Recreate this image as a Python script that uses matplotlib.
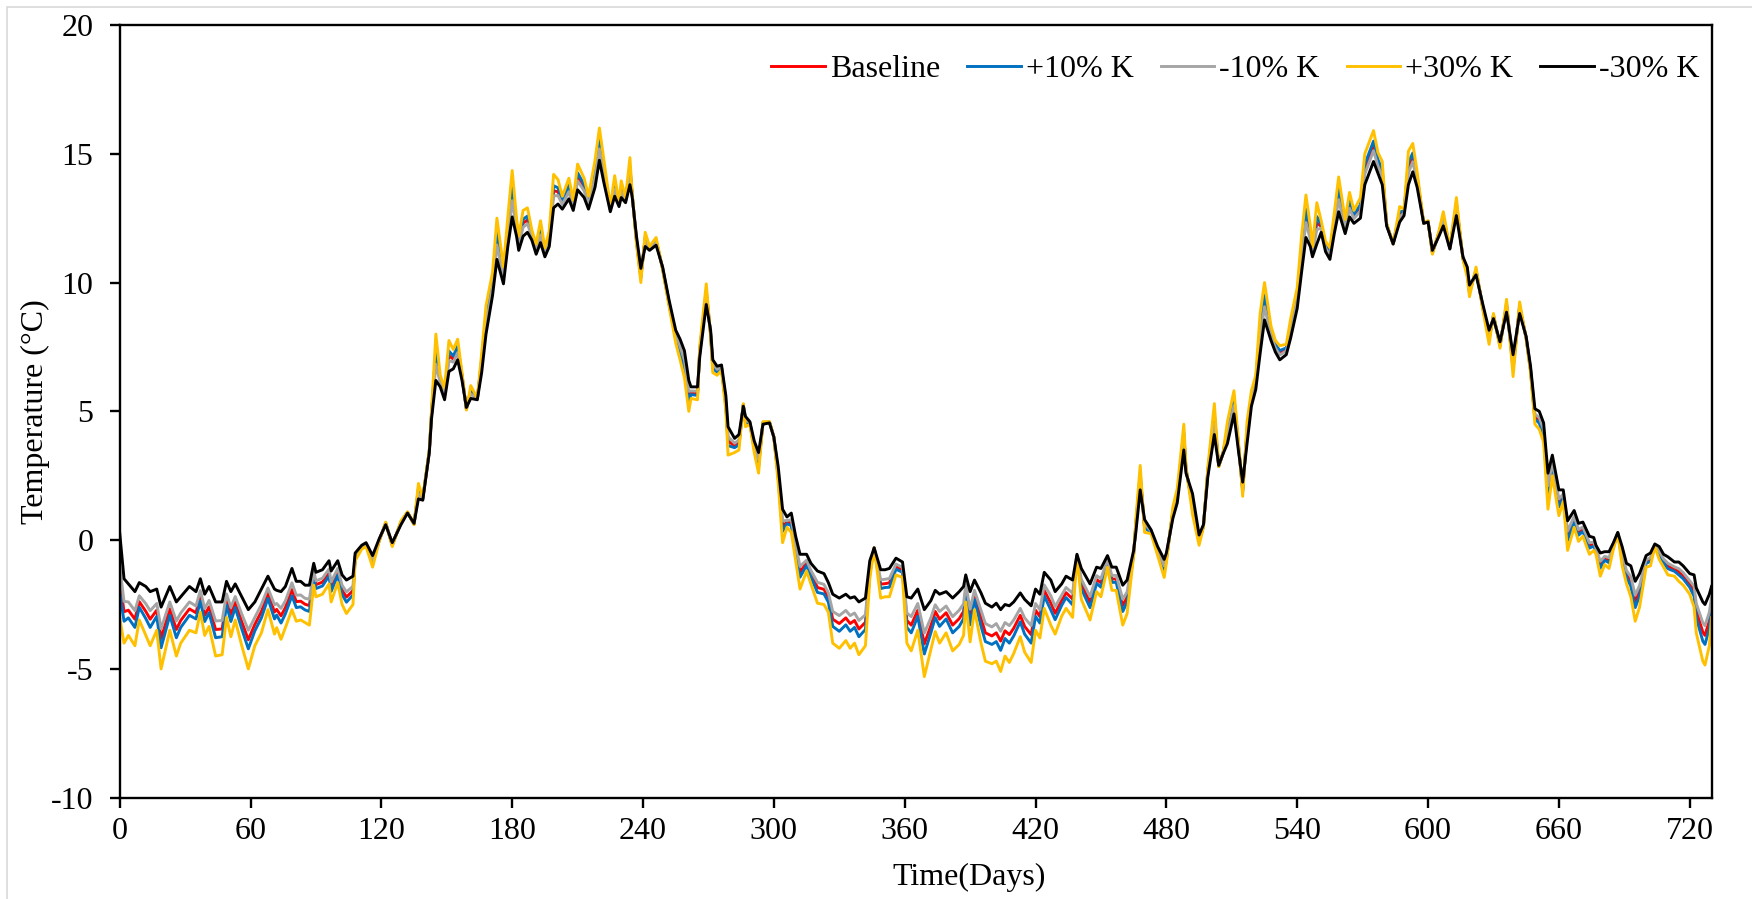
import matplotlib
matplotlib.use("Agg")
import matplotlib.pyplot as plt
from matplotlib.patches import Rectangle

plt.rcParams["font.family"] = ["Liberation Serif", "DejaVu Serif"]
plt.rcParams["font.size"] = 23
plt.rcParams["axes.unicode_minus"] = False

# simulated temperature, day of simulation
DAYS = [
    0, 2, 4, 7, 9, 12, 14, 17, 19, 23, 26, 28,
    32, 35, 37, 39, 41, 44, 47, 49, 51, 53, 56, 59,
    62, 65, 68, 71, 72, 74, 76, 79, 81, 83, 85, 87,
    89, 90, 93, 96, 97, 100, 102, 104, 107, 108, 111, 113,
    116, 119, 122, 125, 129, 132, 135, 137, 139, 142, 143, 145,
    147, 149, 151, 153, 155, 157, 159, 161, 164, 166, 168, 171,
    173, 176, 178, 180, 182, 183, 185, 187, 189, 191, 193, 195,
    197, 199, 201, 203, 206, 208, 210, 213, 215, 218, 220, 222,
    225, 227, 229, 230, 232, 234, 235, 237, 239, 241, 243, 246,
    249, 252, 255, 257, 259, 261, 262, 265, 266, 269, 271, 272,
    274, 276, 278, 279, 282, 284, 286, 287, 289, 291, 293, 295,
    298, 300, 302, 304, 306, 308, 310, 312, 315, 317, 320, 323,
    325, 327, 330, 333, 335, 337, 339, 342, 344, 346, 349, 351,
    353, 356, 359, 361, 363, 366, 369, 372, 374, 376, 379, 382,
    385, 387, 388, 390, 392, 395, 397, 400, 402, 404, 406, 408,
    410, 413, 415, 418, 420, 422, 424, 427, 429, 432, 434, 437,
    439, 441, 445, 448, 450, 453, 455, 457, 460, 462, 465, 466,
    468, 470, 473, 476, 479, 480, 483, 485, 488, 489, 492, 495,
    497, 499, 502, 504, 506, 508, 511, 513, 515, 517, 519, 521,
    523, 525, 528, 530, 532, 535, 537, 540, 542, 544, 546, 547,
    549, 551, 553, 555, 557, 559, 562, 564, 566, 569, 571, 575,
    577, 579, 581, 584, 587, 589, 591, 593, 595, 598, 600, 602,
    605, 607, 610, 613, 616, 618, 619, 622, 625, 628, 630, 633,
    636, 639, 642, 645, 647, 649, 651, 653, 655, 657, 660, 662,
    664, 667, 669, 671, 674, 676, 677, 679, 681, 683, 685, 687,
    689, 691, 693, 695, 697, 700, 702, 704, 706, 708, 710, 713,
    715, 717, 720, 722, 723, 726, 727, 729, 730,
]

T_BASE = [
    -1.5, -2.78, -2.72, -3.07, -2.39, -2.77, -3.07, -2.72, -3.82, -2.67, -3.47, -3.12,
    -2.67, -2.82, -2.16, -2.92, -2.59, -3.47, -3.45, -2.31, -2.89, -2.41, -3.17, -3.87,
    -3.27, -2.77, -2.06, -2.79, -2.69, -2.94, -2.62, -1.92, -2.39, -2.37, -2.49, -2.54,
    -1.33, -1.73, -1.63, -1.26, -1.81, -1.23, -1.94, -2.21, -1.96, -0.65, -0.28, -0.18,
    -0.83, 0.0, 0.65, -0.18, 0.68, 1.08, 0.62, 1.91, 1.6, 3.45, 4.85, 7.12,
    6.18, 5.68, 7.16, 7.03, 7.41, 6.35, 5.1, 5.76, 5.48, 6.88, 8.56, 9.96,
    11.72, 10.28, 11.99, 13.47, 12.16, 11.53, 12.31, 12.43, 11.85, 11.3, 11.98, 11.18,
    11.71, 13.56, 13.53, 13.11, 13.66, 13.0, 14.11, 13.68, 13.11, 14.24, 15.39, 14.36,
    12.85, 13.76, 13.03, 13.63, 13.2, 14.34, 13.43, 11.65, 10.27, 11.68, 11.33, 11.6,
    10.55, 9.17, 7.9, 7.39, 6.81, 5.59, 5.72, 5.7, 7.3, 9.56, 8.02, 6.75,
    6.57, 6.7, 5.29, 3.84, 3.67, 3.79, 5.25, 4.6, 4.55, 3.62, 2.99, 4.55,
    4.58, 4.0, 2.52, 0.54, 0.7, 0.67, -0.33, -1.24, -0.88, -1.31, -1.84, -1.91,
    -2.24, -3.07, -3.24, -3.02, -3.24, -3.12, -3.45, -3.19, -1.16, -0.3, -1.71, -1.69,
    -1.66, -1.03, -1.16, -3.12, -3.3, -2.72, -4.03, -3.32, -2.77, -3.07, -2.82, -3.3,
    -3.05, -2.77, -1.89, -2.99, -2.14, -3.04, -3.6, -3.72, -3.6, -3.92, -3.52, -3.67,
    -3.42, -2.92, -3.35, -3.67, -2.72, -2.97, -1.96, -2.44, -2.84, -2.34, -2.04, -2.29,
    -0.6, -1.71, -2.41, -1.53, -1.66, -0.83, -1.51, -1.51, -2.54, -2.21, -0.5, 0.56,
    2.43, 0.55, 0.32, -0.43, -1.11, -0.7, 1.08, 1.73, 4.01, 2.73, 1.39, 0.0,
    0.55, 2.63, 4.71, 2.87, 3.38, 4.18, 5.36, 3.7, 1.97, 4.18, 5.51, 6.13,
    8.04, 9.29, 8.03, 7.53, 7.28, 7.4, 8.23, 9.41, 11.11, 12.59, 11.81, 11.2,
    12.32, 12.18, 11.4, 11.13, 12.31, 13.44, 12.18, 13.03, 12.56, 12.91, 14.41, 15.31,
    14.66, 14.26, 12.25, 11.5, 12.66, 12.73, 14.46, 14.86, 14.01, 12.3, 12.38, 11.17,
    11.9, 12.48, 11.33, 12.96, 10.95, 10.4, 9.67, 10.45, 9.1, 7.87, 8.7, 7.57,
    9.11, 6.77, 9.03, 7.85, 6.62, 4.79, 4.64, 4.17, 1.89, 2.89, 1.44, 1.72,
    0.16, 0.82, 0.29, 0.42, -0.21, -0.16, -0.38, -0.96, -0.71, -0.78, -0.23, 0.27,
    -0.63, -1.31, -1.61, -2.39, -1.96, -0.83, -0.76, -0.2, -0.51, -0.81, -1.01, -1.13,
    -1.23, -1.38, -1.71, -1.99, -2.74, -3.57, -3.7, -3.12, -2.41,
]

T_P10 = [
    -2.0, -3.15, -3.02, -3.39, -2.61, -3.05, -3.39, -2.96, -4.18, -2.92, -3.79, -3.39,
    -2.92, -3.06, -2.36, -3.16, -2.82, -3.79, -3.75, -2.52, -3.16, -2.62, -3.45, -4.22,
    -3.52, -3.02, -2.26, -3.06, -2.91, -3.22, -2.86, -2.16, -2.62, -2.59, -2.71, -2.77,
    -1.46, -1.88, -1.78, -1.39, -1.99, -1.36, -2.11, -2.41, -2.13, -0.7, -0.3, -0.2,
    -0.9, -0.02, 0.67, -0.2, 0.7, 1.08, 0.62, 2.0, 1.62, 3.47, 4.9, 7.39,
    6.25, 5.75, 7.34, 7.15, 7.53, 6.4, 5.08, 5.83, 5.48, 7.0, 8.73, 10.09,
    11.96, 10.38, 12.16, 13.74, 12.26, 11.61, 12.46, 12.58, 11.91, 11.36, 12.11, 11.23,
    11.8, 13.76, 13.68, 13.18, 13.78, 13.06, 14.26, 13.8, 13.18, 14.39, 15.58, 14.49,
    12.88, 13.88, 13.05, 13.73, 13.23, 14.49, 13.45, 11.6, 10.19, 11.76, 11.35, 11.65,
    10.53, 9.14, 7.82, 7.27, 6.66, 5.41, 5.65, 5.62, 7.36, 9.68, 7.99, 6.67,
    6.52, 6.67, 5.2, 3.67, 3.59, 3.7, 5.27, 4.54, 4.53, 3.55, 2.87, 4.57,
    4.58, 4.0, 2.42, 0.34, 0.64, 0.56, -0.48, -1.44, -0.98, -1.43, -2.03, -2.09,
    -2.41, -3.35, -3.54, -3.29, -3.54, -3.39, -3.75, -3.47, -1.26, -0.3, -1.88, -1.84,
    -1.83, -1.13, -1.25, -3.39, -3.6, -2.96, -4.42, -3.6, -3.01, -3.35, -3.06, -3.6,
    -3.35, -3.05, -2.04, -3.29, -2.31, -3.34, -3.94, -4.05, -3.94, -4.28, -3.82, -4.0,
    -3.72, -3.17, -3.65, -4.0, -2.96, -3.22, -2.17, -2.71, -3.09, -2.53, -2.23, -2.51,
    -0.62, -1.89, -2.62, -1.68, -1.83, -0.9, -1.64, -1.64, -2.77, -2.41, -0.53, 0.63,
    2.58, 0.47, 0.3, -0.48, -1.21, -0.76, 1.15, 1.81, 4.16, 2.77, 1.27, -0.06,
    0.53, 2.68, 4.89, 2.87, 3.38, 4.31, 5.49, 3.76, 1.89, 4.31, 5.6, 6.21,
    8.27, 9.51, 8.11, 7.6, 7.36, 7.46, 8.35, 9.53, 11.32, 12.84, 11.93, 11.26,
    12.56, 12.25, 11.46, 11.2, 12.43, 13.64, 12.26, 13.18, 12.63, 13.03, 14.59, 15.49,
    14.78, 14.39, 12.27, 11.5, 12.75, 12.77, 14.66, 15.03, 14.1, 12.3, 12.38, 11.15,
    11.93, 12.56, 11.33, 13.06, 10.93, 10.34, 9.6, 10.5, 9.07, 7.79, 8.73, 7.54,
    9.18, 6.64, 9.1, 7.83, 6.59, 4.7, 4.54, 4.06, 1.68, 2.77, 1.29, 1.65,
    -0.01, 0.72, 0.19, 0.34, -0.31, -0.23, -0.43, -1.09, -0.78, -0.88, -0.27, 0.27,
    -0.75, -1.43, -1.79, -2.62, -2.16, -0.9, -0.83, -0.22, -0.58, -0.88, -1.11, -1.21,
    -1.35, -1.5, -1.83, -2.18, -3.01, -3.92, -4.05, -3.42, -2.59,
]

T_M10 = [
    -1.0, -2.38, -2.4, -2.74, -2.16, -2.47, -2.74, -2.46, -3.44, -2.4, -3.14, -2.83,
    -2.4, -2.56, -1.96, -2.66, -2.34, -3.14, -3.12, -2.09, -2.61, -2.19, -2.87, -3.5,
    -3.0, -2.5, -1.86, -2.51, -2.46, -2.65, -2.36, -1.66, -2.14, -2.13, -2.26, -2.29,
    -1.2, -1.58, -1.48, -1.12, -1.62, -1.1, -1.75, -2.01, -1.79, -0.6, -0.25, -0.15,
    -0.76, 0.0, 0.63, -0.15, 0.65, 1.07, 0.63, 1.81, 1.59, 3.44, 4.8, 6.83,
    6.11, 5.61, 6.97, 6.91, 7.28, 6.3, 5.12, 5.68, 5.47, 6.76, 8.39, 9.82,
    11.46, 10.18, 11.8, 13.18, 12.05, 11.44, 12.15, 12.28, 11.79, 11.24, 11.85, 11.12,
    11.61, 13.36, 13.38, 13.03, 13.53, 12.94, 13.95, 13.56, 13.03, 14.07, 15.19, 14.22,
    12.82, 13.63, 13.0, 13.53, 13.17, 14.17, 13.4, 11.7, 10.36, 11.59, 11.3, 11.56,
    10.57, 9.21, 7.98, 7.52, 6.98, 5.78, 5.79, 5.78, 7.24, 9.43, 8.06, 6.83,
    6.63, 6.73, 5.39, 4.02, 3.76, 3.89, 5.24, 4.66, 4.57, 3.69, 3.12, 4.54,
    4.57, 4.0, 2.62, 0.75, 0.76, 0.79, -0.18, -1.02, -0.78, -1.18, -1.64, -1.72,
    -2.05, -2.77, -2.93, -2.73, -2.93, -2.83, -3.12, -2.9, -1.05, -0.3, -1.54, -1.52,
    -1.49, -0.93, -1.06, -2.83, -2.97, -2.46, -3.61, -3.02, -2.51, -2.77, -2.56, -2.97,
    -2.72, -2.47, -1.72, -2.68, -1.95, -2.73, -3.24, -3.37, -3.24, -3.54, -3.2, -3.32,
    -3.1, -2.65, -3.02, -3.32, -2.46, -2.7, -1.74, -2.16, -2.58, -2.14, -1.84, -2.06,
    -0.59, -1.52, -2.19, -1.38, -1.49, -0.76, -1.37, -1.37, -2.29, -2.01, -0.47, 0.48,
    2.28, 0.63, 0.35, -0.37, -1.0, -0.64, 1.01, 1.64, 3.85, 2.69, 1.52, 0.06,
    0.57, 2.57, 4.52, 2.88, 3.37, 4.05, 5.22, 3.64, 2.06, 4.05, 5.41, 6.04,
    7.79, 9.06, 7.94, 7.46, 7.19, 7.34, 8.11, 9.28, 10.89, 12.33, 11.68, 11.14,
    12.06, 12.11, 11.34, 11.06, 12.18, 13.22, 12.09, 12.88, 12.48, 12.78, 14.22, 15.12,
    14.53, 14.12, 12.24, 11.5, 12.56, 12.69, 14.26, 14.69, 13.91, 12.3, 12.37, 11.2,
    11.87, 12.39, 11.32, 12.85, 10.97, 10.46, 9.74, 10.41, 9.13, 7.96, 8.67, 7.61,
    9.03, 6.9, 8.96, 7.87, 6.66, 4.89, 4.76, 4.29, 2.11, 3.02, 1.6, 1.79,
    0.35, 0.92, 0.41, 0.51, -0.1, -0.08, -0.32, -0.82, -0.63, -0.68, -0.19, 0.28,
    -0.51, -1.18, -1.42, -2.14, -1.76, -0.76, -0.68, -0.19, -0.43, -0.73, -0.9, -1.04,
    -1.11, -1.26, -1.58, -1.79, -2.46, -3.21, -3.32, -2.8, -2.22,
]

T_P30 = [
    -3.0, -4.0, -3.7, -4.1, -3.1, -3.7, -4.1, -3.5, -5.0, -3.5, -4.5, -4.0,
    -3.5, -3.6, -2.8, -3.7, -3.35, -4.5, -4.45, -3.0, -3.75, -3.1, -4.1, -5.0,
    -4.1, -3.6, -2.7, -3.65, -3.4, -3.85, -3.4, -2.7, -3.15, -3.1, -3.2, -3.3,
    -1.75, -2.2, -2.1, -1.7, -2.4, -1.65, -2.5, -2.85, -2.5, -0.8, -0.35, -0.25,
    -1.05, -0.05, 0.7, -0.25, 0.75, 1.1, 0.6, 2.2, 1.65, 3.5, 5.0, 8.0,
    6.4, 5.9, 7.75, 7.4, 7.8, 6.5, 5.05, 6.0, 5.5, 7.25, 9.1, 10.4,
    12.5, 10.6, 12.55, 14.35, 12.5, 11.8, 12.8, 12.9, 12.05, 11.5, 12.4, 11.35,
    12.0, 14.2, 14.0, 13.35, 14.05, 13.2, 14.6, 14.05, 13.35, 14.75, 16.0, 14.8,
    12.95, 14.15, 13.1, 13.95, 13.3, 14.85, 13.5, 11.5, 10.0, 11.95, 11.4, 11.75,
    10.5, 9.05, 7.65, 7.0, 6.3, 5.0, 5.5, 5.45, 7.5, 9.95, 7.9, 6.5,
    6.4, 6.6, 5.0, 3.3, 3.4, 3.5, 5.3, 4.4, 4.5, 3.4, 2.6, 4.6,
    4.6, 4.0, 2.2, -0.1, 0.5, 0.3, -0.8, -1.9, -1.2, -1.7, -2.45, -2.5,
    -2.8, -4.0, -4.2, -3.9, -4.2, -4.0, -4.45, -4.1, -1.5, -0.3, -2.25, -2.2,
    -2.2, -1.35, -1.45, -4.0, -4.3, -3.5, -5.3, -4.25, -3.55, -4.0, -3.6, -4.3,
    -4.05, -3.7, -2.4, -3.95, -2.7, -4.0, -4.7, -4.8, -4.7, -5.1, -4.5, -4.75,
    -4.4, -3.75, -4.35, -4.75, -3.5, -3.8, -2.65, -3.3, -3.65, -2.95, -2.65, -3.0,
    -0.65, -2.3, -3.1, -2.0, -2.2, -1.05, -1.95, -1.95, -3.3, -2.85, -0.6, 0.8,
    2.9, 0.3, 0.25, -0.6, -1.45, -0.9, 1.3, 2.0, 4.5, 2.85, 1.0, -0.2,
    0.5, 2.8, 5.3, 2.85, 3.4, 4.6, 5.8, 3.9, 1.7, 4.6, 5.8, 6.4,
    8.8, 10.0, 8.3, 7.75, 7.55, 7.6, 8.6, 9.8, 11.8, 13.4, 12.2, 11.4,
    13.1, 12.4, 11.6, 11.35, 12.7, 14.1, 12.45, 13.5, 12.8, 13.3, 15.0, 15.9,
    15.05, 14.7, 12.3, 11.5, 12.95, 12.85, 15.1, 15.4, 14.3, 12.3, 12.4, 11.1,
    12.0, 12.75, 11.35, 13.3, 10.9, 10.2, 9.45, 10.6, 9.0, 7.6, 8.8, 7.45,
    9.35, 6.35, 9.25, 7.8, 6.5, 4.5, 4.3, 3.8, 1.2, 2.5, 0.95, 1.5,
    -0.4, 0.5, -0.05, 0.15, -0.55, -0.4, -0.55, -1.4, -0.95, -1.1, -0.35, 0.25,
    -1.0, -1.7, -2.2, -3.15, -2.6, -1.05, -1.0, -0.25, -0.75, -1.05, -1.35, -1.4,
    -1.6, -1.75, -2.1, -2.6, -3.6, -4.7, -4.85, -4.1, -3.0,
]

T_M30 = [
    0.3, -1.5, -1.7, -2.0, -1.65, -1.8, -2.0, -1.9, -2.6, -1.8, -2.4, -2.2,
    -1.8, -2.0, -1.5, -2.1, -1.8, -2.4, -2.4, -1.6, -2.0, -1.7, -2.2, -2.7,
    -2.4, -1.9, -1.4, -1.9, -1.95, -2.0, -1.8, -1.1, -1.6, -1.6, -1.75, -1.75,
    -0.9, -1.25, -1.15, -0.8, -1.2, -0.8, -1.35, -1.55, -1.4, -0.5, -0.2, -0.1,
    -0.6, 0.05, 0.6, -0.1, 0.6, 1.05, 0.65, 1.6, 1.55, 3.4, 4.7, 6.2,
    5.95, 5.45, 6.55, 6.65, 7.0, 6.2, 5.15, 5.5, 5.45, 6.5, 8.0, 9.5,
    10.9, 9.95, 11.4, 12.55, 11.8, 11.25, 11.8, 11.95, 11.65, 11.1, 11.55, 11.0,
    11.4, 12.9, 13.05, 12.85, 13.25, 12.8, 13.6, 13.3, 12.85, 13.7, 14.75, 13.9,
    12.75, 13.35, 12.95, 13.3, 13.1, 13.8, 13.35, 11.8, 10.55, 11.4, 11.25, 11.45,
    10.6, 9.3, 8.15, 7.8, 7.35, 6.2, 5.95, 5.95, 7.1, 9.15, 8.15, 7.0,
    6.75, 6.8, 5.6, 4.4, 3.95, 4.1, 5.2, 4.8, 4.6, 3.85, 3.4, 4.5,
    4.55, 4.0, 2.85, 1.2, 0.9, 1.05, 0.15, -0.55, -0.55, -0.9, -1.2, -1.3,
    -1.65, -2.1, -2.25, -2.1, -2.25, -2.2, -2.4, -2.25, -0.8, -0.3, -1.15, -1.15,
    -1.1, -0.7, -0.85, -2.2, -2.25, -1.9, -2.7, -2.35, -1.95, -2.1, -2.0, -2.25,
    -2.0, -1.8, -1.35, -2.0, -1.55, -2.05, -2.45, -2.6, -2.45, -2.7, -2.5, -2.55,
    -2.4, -2.05, -2.3, -2.55, -1.9, -2.1, -1.25, -1.55, -2.0, -1.7, -1.4, -1.55,
    -0.55, -1.1, -1.7, -1.05, -1.1, -0.6, -1.05, -1.05, -1.75, -1.55, -0.4, 0.3,
    1.95, 0.8, 0.4, -0.25, -0.75, -0.5, 0.85, 1.45, 3.5, 2.6, 1.8, 0.2,
    0.6, 2.45, 4.1, 2.9, 3.35, 3.75, 4.9, 3.5, 2.25, 3.75, 5.2, 5.85,
    7.25, 8.55, 7.75, 7.3, 7.0, 7.2, 7.85, 9.0, 10.4, 11.75, 11.4, 11.0,
    11.5, 11.95, 11.2, 10.9, 11.9, 12.75, 11.9, 12.55, 12.3, 12.5, 13.8, 14.7,
    14.25, 13.8, 12.2, 11.5, 12.35, 12.6, 13.8, 14.3, 13.7, 12.3, 12.35, 11.25,
    11.8, 12.2, 11.3, 12.6, 11.0, 10.6, 9.9, 10.3, 9.2, 8.15, 8.6, 7.7,
    8.85, 7.2, 8.8, 7.9, 6.75, 5.1, 5.0, 4.55, 2.6, 3.3, 1.95, 1.95,
    0.75, 1.15, 0.65, 0.7, 0.15, 0.1, -0.2, -0.5, -0.45, -0.45, -0.1, 0.3,
    -0.25, -0.9, -1.0, -1.6, -1.3, -0.6, -0.5, -0.15, -0.25, -0.55, -0.65, -0.85,
    -0.85, -1.0, -1.3, -1.35, -1.85, -2.4, -2.5, -2.1, -1.8,
]

SERIES = [
    ("Baseline", T_BASE, "#FF0000"),
    ("+10% K", T_P10, "#0070C0"),
    ("-10% K", T_M10, "#A5A5A5"),
    ("+30% K", T_P30, "#FFC000"),
    ("-30% K", T_M30, "#000000"),
]

fig = plt.figure(figsize=(17.52, 8.99), dpi=100)
ax = fig.add_axes([0.0683, 0.1127, 0.9086, 0.8595])

for label, vals, col in SERIES:
    ax.plot(DAYS, vals, color=col, lw=2.1, label=label, solid_joinstyle="round")

ax.set_xlim(0, 730)
ax.set_ylim(-10, 20)
ax.set_xticks(range(0, 721, 60))
ax.set_yticks(range(-10, 21, 5))
for s in ax.spines.values():
    s.set_linewidth(1.7)
ax.tick_params(axis="both", direction="out", length=7, width=1.7)
ax.tick_params(axis="x", pad=7)
ax.tick_params(axis="y", pad=12)

ax.set_xlabel("Time(Days)")
ax.set_ylabel("Temperature (\u00b0C)")
ax.xaxis.set_label_coords(0.5336, -0.1035)
ax.xaxis.label.set_verticalalignment("center")
ax.yaxis.set_label_coords(-0.0532, 0.5)
ax.yaxis.label.set_verticalalignment("center")

ax.legend(loc="upper right", bbox_to_anchor=(0.9922, 0.961), ncol=5,
          frameon=False, borderpad=0, borderaxespad=0, handlelength=1.68,
          handletextpad=0.15, columnspacing=0.85, fontsize=23)

# light outer frame of the exported figure
fig.patches.append(Rectangle((7 / 1752, -0.5), 2, 1.5 - 7 / 899,
                             transform=fig.transFigure, fill=False,
                             ec="#d9d9d9", lw=1.2))

fig.savefig("out.png", dpi=100)
